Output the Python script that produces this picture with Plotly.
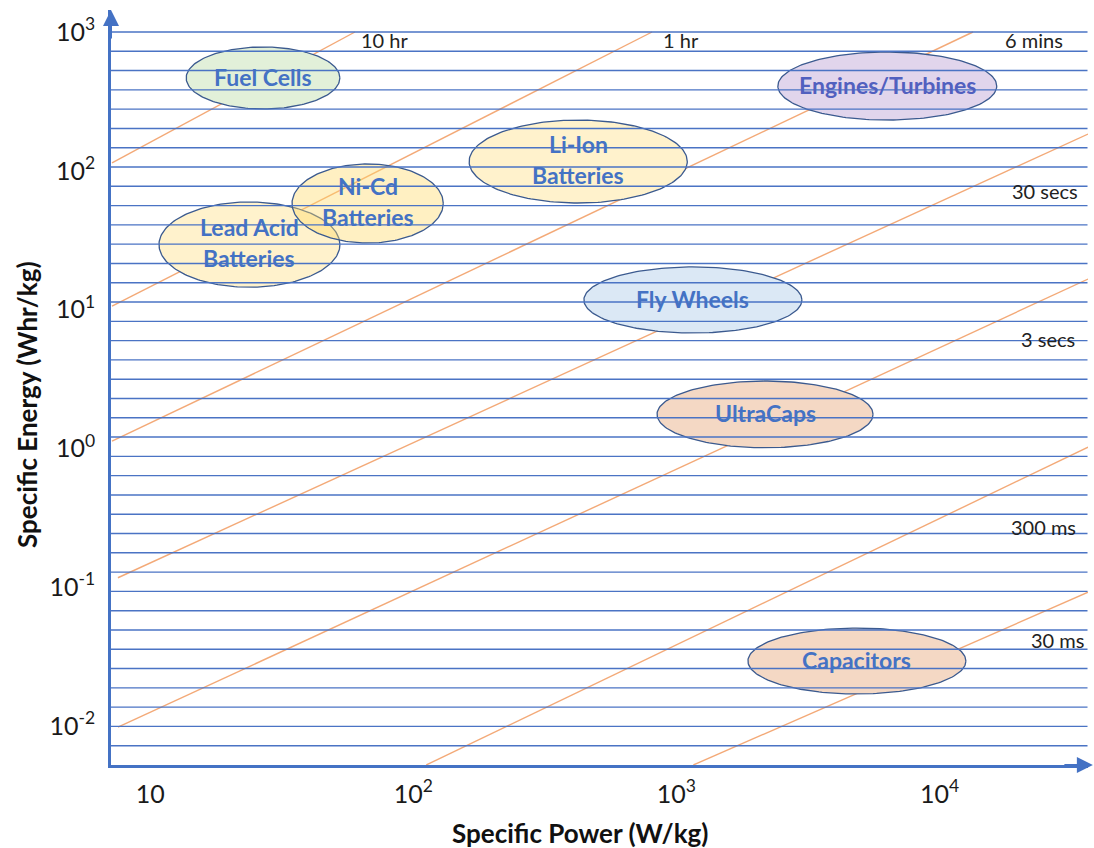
import numpy as np
import plotly.graph_objects as go

# ---------------- data ----------------
# Technology regions: power range (W/kg) and energy range (Wh/kg)
tech_names = ["Fuel Cells", "Lead Acid Batteries", "Ni-Cd Batteries", "Li-Ion Batteries",
              "Engines/Turbines", "Fly Wheels", "UltraCaps", "Capacitors"]
tech_label_lines = [["Fuel Cells"], ["Lead Acid", "Batteries"], ["Ni-Cd", "Batteries"],
                    ["Li-Ion", "Batteries"], ["Engines/Turbines"], ["Fly Wheels"],
                    ["UltraCaps"], ["Capacitors"]]
tech_p_min = [13.7, 10.8, 34.6, 163, 2430, 445, 844, 1870]
tech_p_max = [52.6, 52.6, 130, 1100, 16500, 3000, 5590, 12600]
tech_e_min = [279, 14.5, 30.2, 58.6, 232, 6.78, 1.01, 0.0170]
tech_e_max = [780, 59.6, 112, 232, 718, 20.3, 3.06, 0.0508]

# Constant discharge-time lines (start / end points, W/kg and Wh/kg)
time_labels = ["10 hr", "1 hr", "6 mins", "30 secs", "3 secs", "300 ms", "30 ms"]
time_p_start = [7.16, 7.16, 7.16, 7.54, 7.54, 112, 1160]
time_e_start = [114, 10.6, 1.13, 0.117, 0.0098, 0.00524, 0.00524]
time_p_end = [60, 808, 13400, 36700, 36700, 36700, 36700]
time_e_end = [1000, 1000, 1000, 184, 16.6, 1.02, 0.092]
time_label_p = [62.2, 874, 30000, 34200, 33300, 33600, 36000]
time_label_e = [869, 869, 869, 71.5, 6.14, 0.272, 0.0417]

# Axis ticks
x_tickvals = [10, 100, 1000, 10000]
x_ticktext = ["10", "10<sup>2</sup>", "10<sup>3</sup>", "10<sup>4</sup>"]
y_tickvals = [1000, 100, 10, 1, 0.1, 0.01]
y_ticktext = ["10<sup>3</sup>", "10<sup>2</sup>", "10<sup>1</sup>", "10<sup>0</sup>",
              "10<sup>-1</sup>", "10<sup>-2</sup>"]

# ---------------- styles ----------------
fills = ["#E2F0D9", "#FFF2CC", "rgba(255,217,102,0.40)", "#FFF2CC",
         "#E1D5EC", "#DBE8F5", "#F4D8C4", "#F4D8C4"]
text_colors = ["#4472C4"] * 4 + ["#5160BF"] + ["#4472C4"] * 3
time_anchor = ["left", "left", "right", "right", "right", "right", "right"]
AXIS_BLUE = "#4472C4"
GRID_BLUE = "#4A73C4"
ORANGE = "rgba(237,125,49,0.66)"
OUTLINE = "#3B5A8F"
FONT = "Lato"

W, H = 1094, 848
ML, MR, MT, MB = 111, 6, 10, 83
PLOT_H = H - MT - MB
GRID_PX = 19.29
N_GRID = 38

fig = go.Figure()

# constant-time lines (under the ellipses)
for i in range(len(time_labels)):
    fig.add_trace(go.Scatter(
        x=[time_p_start[i], time_p_end[i]], y=[time_e_start[i], time_e_end[i]],
        mode="lines", line=dict(color=ORANGE, width=1.4),
        showlegend=False, hoverinfo="skip"))

# technology ellipses
t = np.linspace(0, 2 * np.pi, 200)
for i in range(len(tech_names)):
    lx0, lx1 = np.log10(tech_p_min[i]), np.log10(tech_p_max[i])
    ly0, ly1 = np.log10(tech_e_min[i]), np.log10(tech_e_max[i])
    cx, cy = (lx0 + lx1) / 2, (ly0 + ly1) / 2
    rx, ry = (lx1 - lx0) / 2, (ly1 - ly0) / 2
    fig.add_trace(go.Scatter(
        x=10 ** (cx + rx * np.cos(t)), y=10 ** (cy + ry * np.sin(t)),
        mode="lines", fill="toself", fillcolor=fills[i],
        line=dict(color=OUTLINE, width=1.3),
        name=tech_names[i], showlegend=False, hoverinfo="name"))

annotations = []
# ellipse labels
for i in range(len(tech_names)):
    cx = (np.log10(tech_p_min[i]) + np.log10(tech_p_max[i])) / 2
    cy = (np.log10(tech_e_min[i]) + np.log10(tech_e_max[i])) / 2
    lines = tech_label_lines[i]
    n = len(lines)
    for j, txt in enumerate(lines):
        shift = 1 if n == 1 else (17.5 if j == 0 else -13.5)
        annotations.append(dict(
            x=cx, y=cy, xref="x", yref="y", text="<b>%s</b>" % txt, showarrow=False,
            yshift=shift, font=dict(family=FONT, size=23, color=text_colors[i])))

# time labels
for i in range(len(time_labels)):
    annotations.append(dict(
        x=np.log10(time_label_p[i]), y=np.log10(time_label_e[i]), xref="x", yref="y",
        text=time_labels[i], showarrow=False, xanchor=time_anchor[i], yanchor="middle",
        font=dict(family=FONT, size=20, color="#222222")))

# axis titles
annotations.append(dict(
    x=(580 - ML) / (W - ML - MR), y=(H - MB - 833) / PLOT_H, xref="paper", yref="paper",
    xanchor="center", yanchor="middle",
    text="<b>Specific Power (W/kg)</b>", showarrow=False,
    font=dict(family=FONT, size=26, color="#111111")))
annotations.append(dict(
    x=(27 - ML) / (W - ML - MR), y=(H - MB - 405) / PLOT_H, xref="paper", yref="paper",
    xanchor="center", yanchor="middle",
    text="<b>Specific Energy (Whr/kg)</b>", showarrow=False, textangle=-90,
    font=dict(family=FONT, size=26, color="#111111")))

# axis arrows
annotations.append(dict(x=0, y=1, xref="paper", yref="paper", ax=0, ay=30,
                        axref="pixel", ayref="pixel", text="", showarrow=True,
                        arrowhead=2, arrowsize=1.6, arrowwidth=2, arrowcolor=AXIS_BLUE))
annotations.append(dict(x=1.005, y=0, xref="paper", yref="paper", ax=-30, ay=0,
                        axref="pixel", ayref="pixel", text="", showarrow=True,
                        arrowhead=2, arrowsize=1.6, arrowwidth=2, arrowcolor=AXIS_BLUE))

# horizontal rulings (drawn above the ellipses)
shapes = []
for k in range(1, N_GRID + 1):
    yk = k * GRID_PX / PLOT_H
    shapes.append(dict(type="line", xref="paper", yref="paper", x0=0, x1=0.9995,
                       y0=yk, y1=yk, layer="above",
                       line=dict(color=GRID_BLUE, width=1.4)))

x_range = [1 + (ML - 150.2) / 263.1, 1 + (W - MR - 150.2) / 263.1]
y_range = [3 - (H - MB - 32) / 138.8, 3 + (32 - MT) / 138.8]

fig.update_layout(
    width=W, height=H,
    margin=dict(l=ML, r=MR, t=MT, b=MB),
    paper_bgcolor="white", plot_bgcolor="white",
    showlegend=False,
    annotations=annotations, shapes=shapes,
    xaxis=dict(type="log", range=x_range, tickvals=x_tickvals, ticktext=x_ticktext,
               showgrid=False, zeroline=False, showline=True, linecolor=AXIS_BLUE,
               linewidth=2.5, ticks="", ticklabelstandoff=5,
               tickfont=dict(family=FONT, size=25, color="#1a1a1a")),
    yaxis=dict(type="log", range=y_range, tickvals=y_tickvals, ticktext=y_ticktext,
               showgrid=False, zeroline=False, showline=True, linecolor=AXIS_BLUE,
               linewidth=2.5, ticks="", ticklabelstandoff=8,
               tickfont=dict(family=FONT, size=25, color="#1a1a1a")),
)

fig.write_html("out.html", config={"displayModeBar": False},
               post_script="document.body.style.margin='0';")
